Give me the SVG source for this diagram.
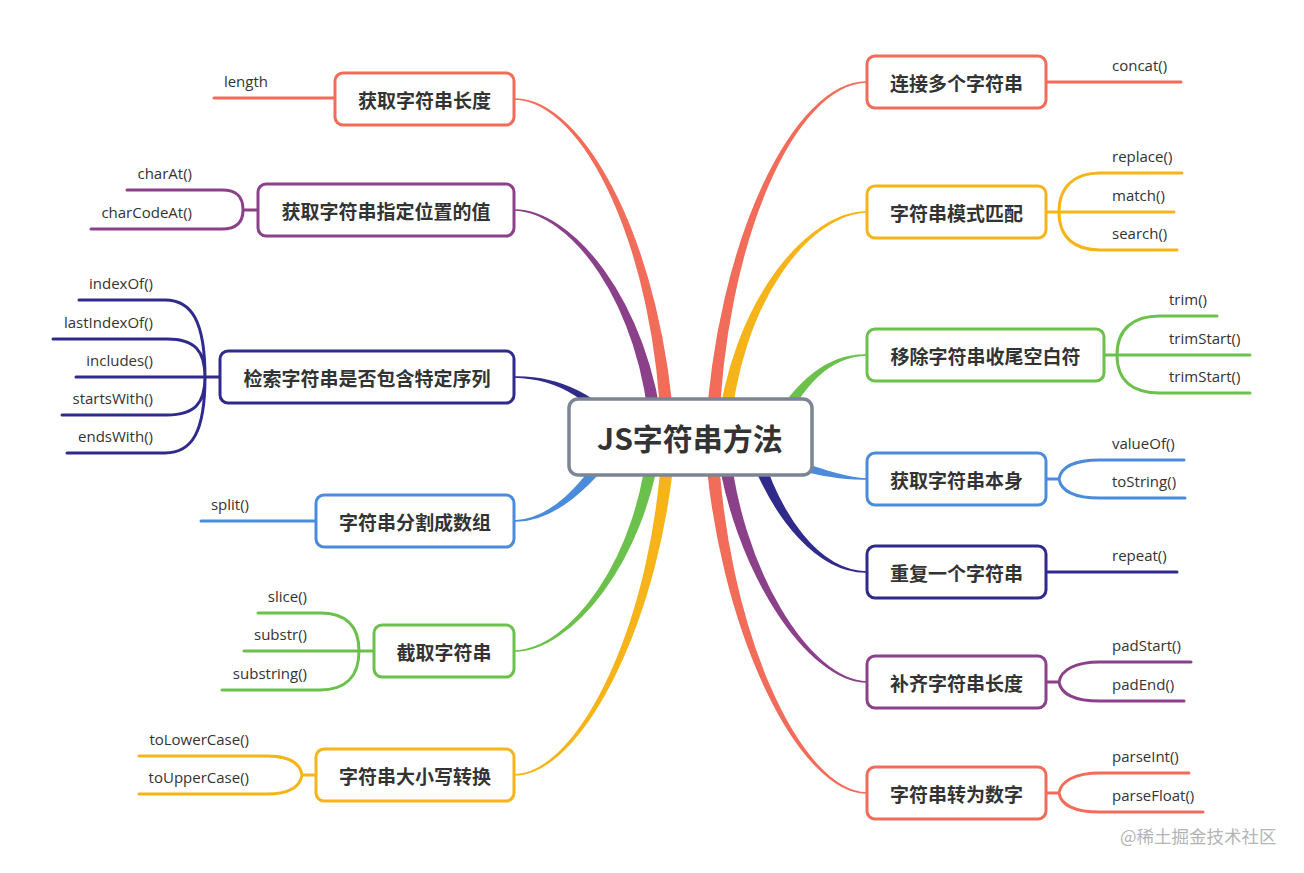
<svg xmlns="http://www.w3.org/2000/svg" width="1304" height="873" viewBox="0 0 1304 873">
<style>
.bg{fill:#ffffff}
.node rect{fill:#ffffff;stroke-width:3}
.node text{font-family:"Noto Sans CJK SC","Noto Sans",sans-serif;font-weight:bold;font-size:19px;fill:#333333;text-anchor:middle;dominant-baseline:central}
.leaf{font-family:"Open Sans","Noto Sans",sans-serif;font-size:15px;fill:#333333}
.l{text-anchor:end}
.br{fill:none;stroke-width:3;stroke-linecap:round}
.tp{stroke-width:1.5;stroke-linejoin:round}
.coral{stroke:#f26c5a}
.purple{stroke:#8b408a}
.navy{stroke:#302b8b}
.blue{stroke:#4a8bdb}
.green{stroke:#6bc14b}
.yellow{stroke:#f6b41a}
.fcoral{fill:#f26c5a;stroke:#f26c5a}
.fpurple{fill:#8b408a;stroke:#8b408a}
.fnavy{fill:#302b8b;stroke:#302b8b}
.fblue{fill:#4a8bdb;stroke:#4a8bdb}
.fgreen{fill:#6bc14b;stroke:#6bc14b}
.fyellow{fill:#f6b41a;stroke:#f6b41a}
</style>
<rect class="bg" x="0" y="0" width="1304" height="873"/>
<g id="connectors">
  <path class="tp fcoral" d="M514,99 C585,100 656.6,250.8 662,437 L674,437 C663.4,249.2 585,98 514,99 Z"/>
  <path class="tp fpurple" d="M514,210 C570,211 641.7,301.3 651,437.5 L663,436.5 C648.3,298.7 570,209 514,210 Z"/>
  <path class="tp fnavy" d="M514,377 C560,378 597.5,402.5 614.7,439.9 L625.3,434.1 C602.5,397.5 560,376 514,377 Z"/>
  <path class="tp fblue" d="M514,521 C550,522 587.7,492.2 625,440.3 L615,433.7 C582.3,487.8 550,520 514,521 Z"/>
  <path class="tp fgreen" d="M514,651 C570,652 646.3,561.3 661,437.6 L649,436.4 C639.7,558.7 570,650 514,651 Z"/>
  <path class="tp fyellow" d="M514,775 C580,776 662.4,620.9 675,437.3 L663,436.7 C655.6,619.1 580,774 514,775 Z"/>
  <path class="tp fcoral" d="M867,82 C795,81 716.6,239.2 706,436.8 L718,437.2 C723.4,240.8 795,83 867,82 Z"/>
  <path class="tp fyellow" d="M867,212 C810,211 731.7,298.7 717,436.5 L729,437.5 C738.3,301.3 810,213 867,212 Z"/>
  <path class="tp fgreen" d="M867,355 C830,354 797.2,377.9 764.7,434.2 L775.3,439.8 C802.8,382.1 830,356 867,355 Z"/>
  <path class="tp fblue" d="M867,479 C840,478 816,466.65 761.6,449.2 L758.4,460.8 C814,473.35 840,480 867,479 Z"/>
  <path class="tp fnavy" d="M867,572 C820,571 778.1,518.4 755.7,435.3 L744.3,438.7 C771.9,521.6 820,573 867,572 Z"/>
  <path class="tp fpurple" d="M867,682 C810,681 738.3,568.8 728,436.4 L716,437.6 C731.7,571.2 810,683 867,682 Z"/>
  <path class="tp fcoral" d="M867,793 C800,792 724.4,629.2 717,436.7 L705,437.3 C717.6,630.9 800,794 867,793 Z"/>

  <path class="br coral" d="M335,98 L214,98"/>
  <path class="br purple" d="M258,210 L243,210 M243,210 C243,196 236,190 222,190 L127,190 M243,210 C243,223 236,229 222,229 L91,229"/>
  <path class="br navy" d="M220,377 L205,377 M205,377 C205,322 192,300 165,300 L79,300 M205,377 C205,351 195,339 167,339 L53,339 M205,377 L76,377 M205,377 C205,403 195,415 167,415 L62,415 M205,377 C205,432 192,453 165,453 L67,453"/>
  <path class="br blue" d="M316,521 L201,521"/>
  <path class="br green" d="M374,651 L359,651 M359,651 C359,625 345,613 320,613 L258,613 M359,651 L244,651 M359,651 C359,677 345,690 320,690 L222,690"/>
  <path class="br yellow" d="M316,775 L302,775 M302,775 C300,763 290,756 267,756 L139,756 M302,775 C300,787 290,794 267,794 L139,794"/>

  <path class="br coral" d="M1046,82 L1181,82"/>
  <path class="br yellow" d="M1046,212 L1059,212 M1059,212 C1059,186 1075,173 1100,173 L1182,173 M1059,212 L1174,212 M1059,212 C1059,238 1075,250 1100,250 L1177,250"/>
  <path class="br green" d="M1104,355 L1117,355 M1117,355 C1117,329 1133,316 1160,316 L1217,316 M1117,355 L1250,355 M1117,355 C1117,381 1133,393 1160,393 L1250,393"/>
  <path class="br blue" d="M1046,479 L1059,479 M1059,479 C1061,467 1075,460 1100,460 L1184,460 M1059,479 C1061,491 1075,498 1100,498 L1185,498"/>
  <path class="br navy" d="M1046,572 L1177,572"/>
  <path class="br purple" d="M1046,682 L1059,682 M1059,682 C1061,670 1075,662 1100,662 L1191,662 M1059,682 C1061,694 1075,701 1100,701 L1184,701"/>
  <path class="br coral" d="M1046,793 L1059,793 M1059,793 C1061,781 1075,773 1100,773 L1189,773 M1059,793 C1061,805 1075,812 1100,812 L1203,812"/>
</g>

<g id="center" class="node">
  <rect x="569" y="399" width="243" height="76" rx="9" style="stroke:#7c8593;stroke-width:3.5"/>
  <text x="690" y="437" style="font-size:30px">JS字符串方法</text>
</g>

<g id="n-length" class="node">
  <rect x="335" y="73" width="179" height="52" rx="8" class="coral"/>
  <text x="424.5" y="99">获取字符串长度</text>
</g>
<g id="n-charat" class="node">
  <rect x="258" y="184" width="256" height="52" rx="8" class="purple"/>
  <text x="386" y="210">获取字符串指定位置的值</text>
</g>
<g id="n-search" class="node">
  <rect x="220" y="351" width="294" height="52" rx="8" class="navy"/>
  <text x="367" y="377">检索字符串是否包含特定序列</text>
</g>
<g id="n-split" class="node">
  <rect x="316" y="495" width="198" height="52" rx="8" class="blue"/>
  <text x="415" y="521">字符串分割成数组</text>
</g>
<g id="n-slice" class="node">
  <rect x="374" y="625" width="140" height="52" rx="8" class="green"/>
  <text x="444" y="651">截取字符串</text>
</g>
<g id="n-case" class="node">
  <rect x="316" y="749" width="198" height="52" rx="8" class="yellow"/>
  <text x="415" y="775">字符串大小写转换</text>
</g>

<g id="n-concat" class="node">
  <rect x="867" y="56" width="179" height="52" rx="8" class="coral"/>
  <text x="956.5" y="82">连接多个字符串</text>
</g>
<g id="n-match" class="node">
  <rect x="867" y="186" width="179" height="52" rx="8" class="yellow"/>
  <text x="956.5" y="212">字符串模式匹配</text>
</g>
<g id="n-trim" class="node">
  <rect x="867" y="329" width="237" height="52" rx="8" class="green"/>
  <text x="985.5" y="355">移除字符串收尾空白符</text>
</g>
<g id="n-self" class="node">
  <rect x="867" y="453" width="179" height="52" rx="8" class="blue"/>
  <text x="956.5" y="479">获取字符串本身</text>
</g>
<g id="n-repeat" class="node">
  <rect x="867" y="546" width="179" height="52" rx="8" class="navy"/>
  <text x="956.5" y="572">重复一个字符串</text>
</g>
<g id="n-pad" class="node">
  <rect x="867" y="656" width="179" height="52" rx="8" class="purple"/>
  <text x="956.5" y="682">补齐字符串长度</text>
</g>
<g id="n-number" class="node">
  <rect x="867" y="767" width="179" height="52" rx="8" class="coral"/>
  <text x="956.5" y="793">字符串转为数字</text>
</g>

<g id="leaves">
  <text class="leaf l" x="268" y="87">length</text>
  <text class="leaf l" x="192" y="179">charAt()</text>
  <text class="leaf l" x="192" y="218">charCodeAt()</text>
  <text class="leaf l" x="153" y="289">indexOf()</text>
  <text class="leaf l" x="153" y="328">lastIndexOf()</text>
  <text class="leaf l" x="153" y="366">includes()</text>
  <text class="leaf l" x="153" y="404">startsWith()</text>
  <text class="leaf l" x="153" y="442">endsWith()</text>
  <text class="leaf l" x="249" y="510">split()</text>
  <text class="leaf l" x="307" y="602">slice()</text>
  <text class="leaf l" x="307" y="640">substr()</text>
  <text class="leaf l" x="307" y="679">substring()</text>
  <text class="leaf l" x="249" y="745">toLowerCase()</text>
  <text class="leaf l" x="249" y="783">toUpperCase()</text>

  <text class="leaf" x="1112" y="71">concat()</text>
  <text class="leaf" x="1112" y="162">replace()</text>
  <text class="leaf" x="1112" y="201">match()</text>
  <text class="leaf" x="1112" y="239">search()</text>
  <text class="leaf" x="1169" y="305">trim()</text>
  <text class="leaf" x="1169" y="344">trimStart()</text>
  <text class="leaf" x="1169" y="382">trimStart()</text>
  <text class="leaf" x="1112" y="449">valueOf()</text>
  <text class="leaf" x="1112" y="487">toString()</text>
  <text class="leaf" x="1112" y="561">repeat()</text>
  <text class="leaf" x="1112" y="651">padStart()</text>
  <text class="leaf" x="1112" y="690">padEnd()</text>
  <text class="leaf" x="1112" y="762">parseInt()</text>
  <text class="leaf" x="1112" y="801">parseFloat()</text>
</g>

<text x="1120" y="843" style="font-family:'Noto Sans CJK SC','Noto Sans',sans-serif;font-size:17.5px;fill:#b4b4b4">@稀土掘金技术社区</text>
</svg>
